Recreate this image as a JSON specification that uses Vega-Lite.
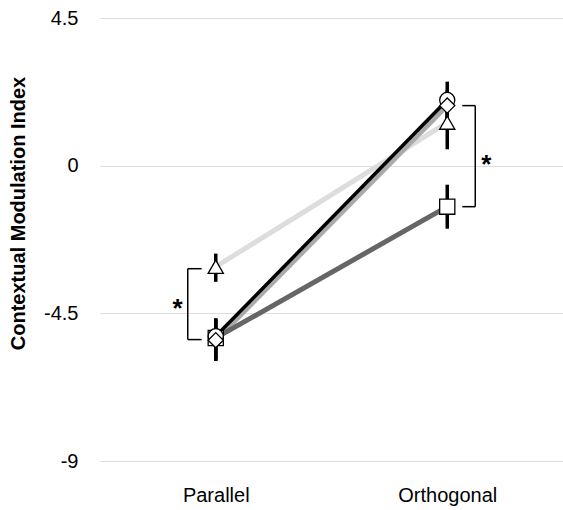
{
  "$schema": "https://vega.github.io/schema/vega-lite/v6.json",
  "width": 463,
  "height": 443,
  "autosize": "none",
  "padding": {"left": 100, "top": 18, "right": 0, "bottom": 49},
  "background": "white",
  "config": {"view": {"stroke": null}, "font": "Liberation Sans"},
  "datasets": {
    "pts": [
      {"pos": 0, "series": "triangle", "mean": -3.08, "lo": -3.54, "hi": -2.68},
      {"pos": 1, "series": "triangle", "mean": 1.31, "lo": 0.5, "hi": 2.1},
      {"pos": 0, "series": "diamond", "mean": -5.32, "lo": -5.95, "hi": -4.7},
      {"pos": 1, "series": "diamond", "mean": 1.83, "lo": 1.35, "hi": 2.3},
      {"pos": 0, "series": "square", "mean": -5.25, "lo": -5.9, "hi": -4.65},
      {"pos": 1, "series": "square", "mean": -1.25, "lo": -1.92, "hi": -0.58},
      {"pos": 0, "series": "circle", "mean": -5.2, "lo": -5.95, "hi": -4.66},
      {"pos": 1, "series": "circle", "mean": 2.0, "lo": 1.45, "hi": 2.56}
    ],
    "brackets": [
      {"x": -0.121, "x2": -0.121, "y": -3.14, "y2": -5.3},
      {"x": -0.121, "x2": -0.061, "y": -3.14, "y2": -3.14},
      {"x": -0.121, "x2": -0.061, "y": -5.3, "y2": -5.3},
      {"x": 1.121, "x2": 1.121, "y": 1.83, "y2": -1.25},
      {"x": 1.065, "x2": 1.121, "y": 1.83, "y2": 1.83},
      {"x": 1.065, "x2": 1.121, "y": -1.25, "y2": -1.25}
    ],
    "stars": [
      {"x": -0.165, "y": -4.2, "label": "*"},
      {"x": 1.169, "y": 0.21, "label": "*"}
    ]
  },
  "layer": [
    {
      "data": {"name": "pts"},
      "mark": {"type": "rule", "color": "black", "strokeWidth": 3.5},
      "encoding": {
        "x": {"field": "pos", "type": "quantitative", "scale": {"domain": [-0.5, 1.5], "nice": false, "zero": false},
          "axis": {"values": [0, 1], "labelExpr": "datum.value == 0 ? 'Parallel' : 'Orthogonal'", "grid": false, "domain": false, "ticks": false, "labelFontSize": 20, "labelPadding": 24, "labelColor": "black", "labelFont": "Liberation Sans", "title": null}},
        "y": {"field": "lo", "type": "quantitative", "scale": {"domain": [-9, 4.5], "nice": false, "zero": false},
          "axis": {"values": [4.5, 0, -4.5, -9], "labelExpr": "datum.value + ''", "grid": true, "gridColor": "#dddddd", "gridWidth": 1, "domain": false, "ticks": false, "labelFontSize": 20, "labelPadding": 22, "labelColor": "black", "labelFont": "Liberation Sans",
            "title": "Contextual Modulation Index", "titleFontSize": 20, "titleFontWeight": "bold", "titleColor": "black", "titleFont": "Liberation Sans", "titleX": -82, "titleY": 195, "titleBaseline": "middle", "titleAngle": -90, "titleAlign": "center"}},
        "y2": {"field": "hi"}
      }
    },
    {
      "data": {"name": "pts"},
      "transform": [{"filter": "datum.series != 'circle'"}],
      "mark": {"type": "line", "strokeWidth": 5},
      "encoding": {
        "x": {"field": "pos", "type": "quantitative"},
        "y": {"field": "mean", "type": "quantitative"},
        "color": {"field": "series", "type": "nominal", "legend": null,
          "scale": {"domain": ["triangle", "diamond", "square", "circle"], "range": ["#dddddd", "#aaaaaa", "#666666", "#000000"]}}
      }
    },
    {
      "data": {"name": "pts"},
      "transform": [{"filter": "datum.series == 'circle'"}],
      "mark": {"type": "line", "strokeWidth": 3.5},
      "encoding": {
        "x": {"field": "pos", "type": "quantitative"},
        "y": {"field": "mean", "type": "quantitative"},
        "color": {"field": "series", "type": "nominal", "legend": null}
      }
    },
    {
      "data": {"name": "pts"},
      "transform": [{"filter": "datum.series != 'diamond'"}],
      "mark": {"type": "point", "filled": true, "fill": "white", "stroke": "black", "strokeWidth": 1.3, "opacity": 1, "size": 230},
      "encoding": {
        "x": {"field": "pos", "type": "quantitative"},
        "y": {"field": "mean", "type": "quantitative"},
        "shape": {"field": "series", "type": "nominal", "legend": null,
          "scale": {"domain": ["square", "triangle", "diamond", "circle"], "range": ["square", "triangle-up", "diamond", "circle"]}}
      }
    },
    {
      "data": {"name": "pts"},
      "transform": [{"filter": "datum.series == 'diamond'"}],
      "mark": {"type": "point", "filled": true, "fill": "white", "stroke": "black", "strokeWidth": 1.3, "opacity": 1, "size": 230},
      "encoding": {
        "x": {"field": "pos", "type": "quantitative"},
        "y": {"field": "mean", "type": "quantitative"},
        "shape": {"field": "series", "type": "nominal", "legend": null}
      }
    },
    {
      "data": {"name": "brackets"},
      "mark": {"type": "rule", "color": "black", "strokeWidth": 1.5},
      "encoding": {
        "x": {"field": "x", "type": "quantitative"},
        "x2": {"field": "x2"},
        "y": {"field": "y", "type": "quantitative"},
        "y2": {"field": "y2"}
      }
    },
    {
      "data": {"name": "stars"},
      "mark": {"type": "text", "fontSize": 26, "fontWeight": "bold", "color": "black", "baseline": "middle", "align": "center", "dy": 6},
      "encoding": {
        "x": {"field": "x", "type": "quantitative"},
        "y": {"field": "y", "type": "quantitative"},
        "text": {"field": "label"}
      }
    }
  ]
}
